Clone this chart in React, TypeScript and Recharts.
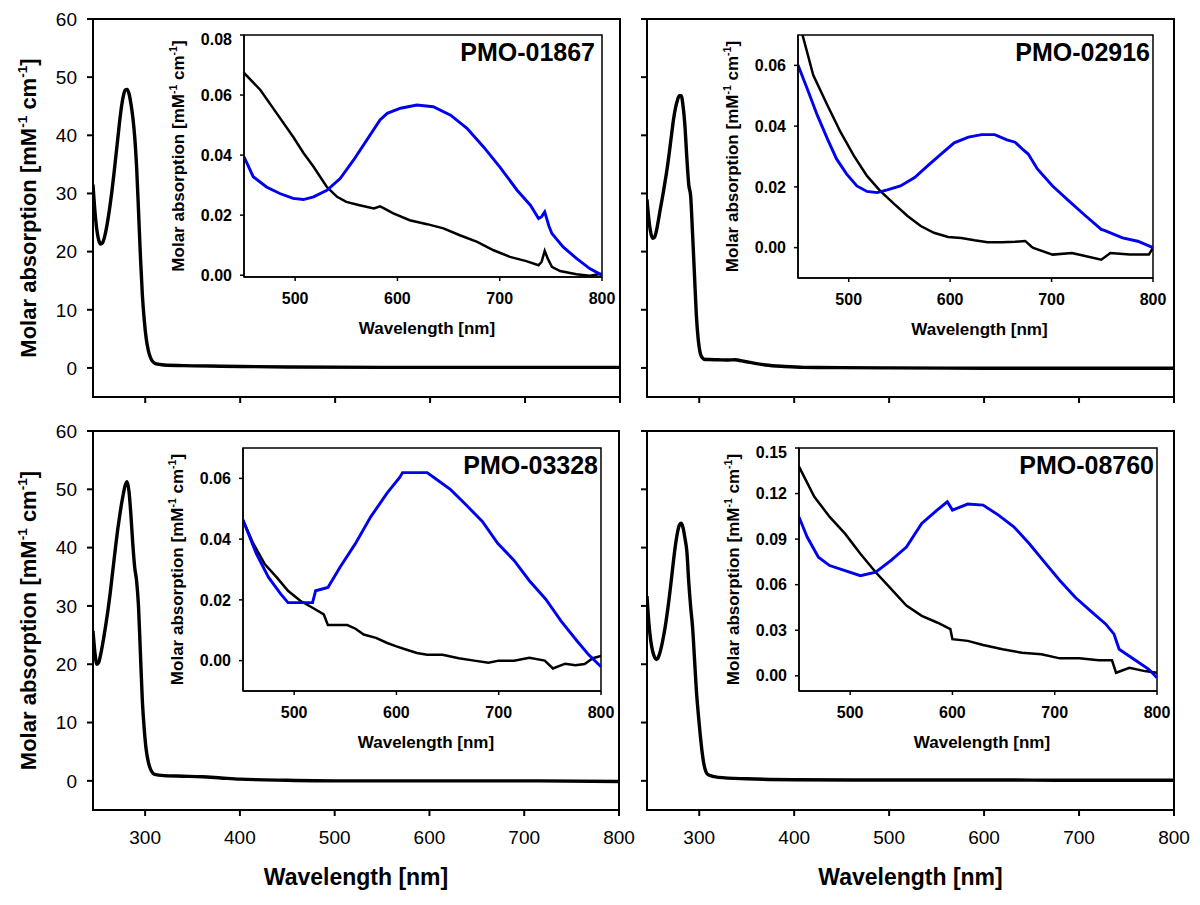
import React from 'react';
import { LineChart, Line, XAxis, YAxis, ReferenceArea, Customized } from 'recharts';

const FONT = '"Liberation Sans", Arial, Helvetica, sans-serif';
const BLUE = '#0000f0';

// ---- main spectra (245-800 nm), mM-1 cm-1 ----
const wl01867 = [245, 247, 249, 251, 253, 255, 257, 259, 261, 263, 265, 267, 269, 271, 273, 275, 277, 279, 281, 283, 285, 287, 289, 291, 293, 295, 297, 299, 301, 303, 305, 307, 310, 315, 320, 340, 380, 450, 550, 650, 800];
const abs01867 = [31.5, 27, 23.8, 22, 21.3, 21.5, 22.4, 23.9, 25.8, 28, 30.5, 33.3, 36.3, 39.3, 42.3, 44.9, 46.8, 47.8, 47.9, 47.1, 45.4, 43, 39.6, 34.3, 26.8, 19, 12.5, 8.2, 5.1, 3.2, 2, 1.3, 0.8, 0.6, 0.5, 0.4, 0.3, 0.15, 0.1, 0.1, 0.1];

const wl02916 = [245, 247, 249, 251, 253, 255, 257, 259, 261, 263, 265, 267, 269, 271, 273, 275, 277, 279, 281, 283, 285, 287, 289, 291, 293, 295, 297, 299, 301, 303, 305, 310, 320, 330, 338, 345, 355, 370, 390, 410, 450, 500, 600, 700, 800];
const abs02916 = [29, 25.5, 23.2, 22.3, 22.5, 23.6, 25.4, 27.3, 29.1, 31, 33, 35.2, 37.7, 40.3, 42.8, 44.7, 46, 46.8, 46.8, 45, 41.5, 36, 31.5, 29.5, 23, 16, 9, 4.8, 2.6, 1.8, 1.5, 1.45, 1.4, 1.35, 1.4, 1.2, 0.9, 0.5, 0.25, 0.1, 0.05, 0, -0.05, -0.05, -0.05];

const wl03328 = [245, 247, 249, 251, 253, 255, 257, 259, 261, 263, 265, 267, 269, 271, 273, 275, 277, 279, 281, 283, 285, 287, 289, 291, 293, 295, 297, 299, 301, 303, 305, 307, 310, 320, 340, 360, 380, 400, 450, 500, 600, 700, 800];
const abs03328 = [25.7, 22, 20, 20.3, 21.6, 23.3, 25.2, 27.3, 29.5, 32, 34.8, 37.6, 40.4, 43, 45.3, 47.4, 49.2, 50.7, 51.3, 49.6, 45.6, 40.6, 36.6, 34.3, 30, 22, 14, 9, 5.5, 3.5, 2.3, 1.6, 1.1, 0.9, 0.8, 0.7, 0.5, 0.3, 0.1, 0, 0, 0, -0.1];

const wl08760 = [245, 247, 249, 251, 253, 255, 257, 259, 261, 263, 265, 267, 269, 271, 273, 275, 277, 279, 281, 283, 285, 287, 289, 291, 293, 295, 297, 299, 301, 303, 305, 307, 310, 320, 350, 400, 500, 600, 700, 800];
const abs08760 = [31.7, 27, 24, 22.2, 21.2, 20.8, 21.2, 22.2, 23.6, 25.3, 27.3, 29.6, 32.2, 35, 37.9, 40.5, 42.5, 43.8, 44.2, 43.4, 41.6, 39.3, 34, 29.8, 26.3, 21, 15.5, 11.5, 8, 5, 2.8, 1.6, 1, 0.6, 0.35, 0.2, 0.15, 0.15, 0.1, 0.1];

// ---- inset spectra 450-800 nm: protein (black) and complex (blue) ----
const inWl01867K = [450, 466, 482, 498, 508, 518, 531, 541, 550, 563, 577, 583, 586, 596, 612, 629, 645, 661, 678, 694, 710, 726, 738, 741, 744, 747, 751, 759, 775, 788, 800];
const in01867K = [0.0674, 0.0617, 0.0539, 0.0461, 0.0408, 0.0361, 0.0294, 0.0261, 0.0244, 0.0233, 0.0222, 0.0229, 0.0224, 0.0206, 0.0183, 0.017, 0.0156, 0.0133, 0.0111, 0.0083, 0.0061, 0.0047, 0.0033, 0.0045, 0.0081, 0.0055, 0.0028, 0.0014, 0.0003, -0.0002, 0.0005];
const inWl01867B = [450, 459, 472, 485, 498, 508, 518, 531, 544, 557, 570, 583, 590, 603, 619, 635, 652, 668, 684, 700, 717, 730, 738, 741, 744, 748, 751, 762, 775, 788, 800];
const in01867B = [0.0394, 0.0328, 0.0294, 0.0272, 0.0256, 0.0252, 0.0261, 0.0283, 0.0322, 0.0383, 0.045, 0.0517, 0.0539, 0.0556, 0.0567, 0.0561, 0.0533, 0.0489, 0.0428, 0.0361, 0.0283, 0.0233, 0.0189, 0.0195, 0.0211, 0.0165, 0.0139, 0.0094, 0.0056, 0.0022, 0.0];

const inWl02916K = [450, 454, 465, 479, 492, 505, 518, 531, 545, 558, 571, 584, 598, 611, 624, 637, 651, 664, 674, 680, 682, 701, 720, 732, 749, 758, 777, 796, 800];
const in02916K = [0.0755, 0.0706, 0.0568, 0.0469, 0.038, 0.0303, 0.0236, 0.0187, 0.0143, 0.0104, 0.0071, 0.0049, 0.0035, 0.0032, 0.0024, 0.0018, 0.0018, 0.0019, 0.0022, 0.0004, -0.0001, -0.0023, -0.0018, -0.0027, -0.004, -0.0018, -0.0023, -0.0023, 0.0];
const inWl02916B = [450, 459, 469, 479, 488, 498, 508, 518, 528, 538, 551, 565, 578, 591, 604, 618, 631, 644, 656, 664, 671, 677, 686, 701, 717, 732, 749, 752, 770, 785, 800];
const in02916B = [0.0601, 0.0524, 0.0436, 0.0358, 0.0292, 0.0242, 0.0203, 0.0185, 0.0181, 0.019, 0.0203, 0.0231, 0.027, 0.0308, 0.0345, 0.0364, 0.0372, 0.0372, 0.0355, 0.0347, 0.0325, 0.0308, 0.0259, 0.0203, 0.0154, 0.0109, 0.006, 0.0057, 0.0032, 0.0021, 0.0];

const inWl03328K = [450, 460, 471, 483, 494, 506, 518, 529, 533, 540, 552, 560, 568, 580, 591, 600, 610, 620, 630, 645, 661, 676, 690, 700, 715, 730, 745, 753, 765, 775, 784, 792, 800];
const in03328K = [0.0463, 0.0386, 0.0319, 0.0274, 0.023, 0.0197, 0.0174, 0.0152, 0.0117, 0.0117, 0.0117, 0.0105, 0.0086, 0.0075, 0.0058, 0.0047, 0.0036, 0.0025, 0.0019, 0.0019, 0.0008, 0.0, -0.0007, 0.0, 0.0, 0.0009, 0.0, -0.0026, -0.001, -0.0015, -0.0011, 0.0008, 0.0015];
const inWl03328B = [450, 463, 475, 487, 494, 506, 518, 521, 533, 545, 560, 575, 591, 603, 606, 618, 630, 637, 653, 668, 684, 699, 715, 730, 746, 761, 777, 788, 800];
const in03328B = [0.0463, 0.0352, 0.0274, 0.0219, 0.0191, 0.0191, 0.0191, 0.023, 0.0241, 0.0308, 0.0386, 0.0474, 0.0552, 0.0602, 0.0619, 0.0619, 0.0619, 0.0602, 0.0563, 0.0513, 0.0458, 0.0386, 0.033, 0.0263, 0.0202, 0.013, 0.0063, 0.0019, -0.002];

const inWl08760K = [450, 465, 480, 495, 510, 525, 540, 555, 570, 585, 598, 600, 615, 630, 649, 668, 687, 705, 724, 743, 756, 760, 773, 788, 800];
const in08760K = [0.1377, 0.1179, 0.1046, 0.0936, 0.0804, 0.0682, 0.0572, 0.0462, 0.0395, 0.0351, 0.0307, 0.0241, 0.023, 0.0203, 0.0175, 0.0152, 0.0142, 0.0115, 0.0115, 0.0102, 0.0102, 0.002, 0.0053, 0.0031, 0.002];
const inWl08760B = [450, 458, 469, 480, 495, 510, 525, 540, 555, 570, 585, 595, 600, 615, 630, 645, 660, 675, 690, 705, 720, 735, 750, 758, 763, 780, 792, 800];
const in08760B = [0.1046, 0.0914, 0.0781, 0.0726, 0.0693, 0.0659, 0.0682, 0.076, 0.0848, 0.1003, 0.1091, 0.1146, 0.1091, 0.1131, 0.1124, 0.1058, 0.0981, 0.0871, 0.0749, 0.0628, 0.0517, 0.0428, 0.034, 0.0274, 0.0175, 0.0098, 0.0043, -0.0013];

// ---- ticks ----
const mainXTicks = [300, 400, 500, 600, 700, 800];
const mainYTicks = [0, 10, 20, 30, 40, 50, 60];
const insetXTicks = [500, 600, 700, 800];
const yTicks01867 = [0, 0.02, 0.04, 0.06, 0.08];
const yTicks02916 = [0, 0.02, 0.04, 0.06];
const yTicks03328 = [0, 0.02, 0.04, 0.06];
const yTicks08760 = [0, 0.03, 0.06, 0.09, 0.12, 0.15];

const zip = (xs: number[], ys: number[]) => xs.map((x, i) => ({ x, y: ys[i] }));

const AbsTitle = ({ size }: { size: number }) => {
  const up = size * 0.4;
  const sup = size * 0.62;
  return (
    <>
      Molar absorption [mM
      <tspan dy={-up} fontSize={sup}>-1</tspan>
      <tspan dy={up}> cm</tspan>
      <tspan dy={-up} fontSize={sup}>-1</tspan>
      <tspan dy={up}>]</tspan>
    </>
  );
};

type Box = { x0: number; y0: number; x1: number; y1: number };

interface PanelCfg {
  box: Box;
  pad: { l: number; r: number; t: number; b: number };
  xDomain: [number, number];
  yDomain: [number, number];
  xTicks: number[];
  yTicks: number[];
  xLabels: boolean;
  yLabels: boolean;
  tickFont: number;
  tickBold: boolean;
  tickSize: number;
  xTickMargin: number;
  yTickMargin: number;
  axisWidth: number;
  digits: number;
  series: { data: { x: number; y: number }[]; color: string; width: number; type: 'monotone' | 'linear' }[];
  yTitle?: { x: number; size: number };
  xTitle?: { cx: number; y: number; size: number };
  tag?: { text: string; right: number; y: number; size: number };
}

const Panel = ({ cfg }: { cfg: PanelCfg }) => {
  const { box, pad } = cfg;
  const left = box.x0 - pad.l;
  const top = box.y0 - pad.t;
  const width = box.x1 - box.x0 + pad.l + pad.r;
  const height = box.y1 - box.y0 + pad.t + pad.b;
  const tickStyle = { fill: '#000', fontSize: cfg.tickFont, fontFamily: FONT, fontWeight: cfg.tickBold ? 'bold' : 'normal' };
  const fmt = (v: number) => v.toFixed(cfg.digits);
  const midY = (box.y0 + box.y1) / 2;

  const overlay = (
    <g fontFamily={FONT} fill="#000" fontWeight="bold">
      {cfg.yTitle && (
        <text transform={`translate(${cfg.yTitle.x - left},${midY - top}) rotate(-90)`} textAnchor="middle" fontSize={cfg.yTitle.size}>
          <AbsTitle size={cfg.yTitle.size} />
        </text>
      )}
      {cfg.xTitle && (
        <text x={cfg.xTitle.cx - left} y={cfg.xTitle.y - top} textAnchor="middle" fontSize={cfg.xTitle.size}>
          Wavelength [nm]
        </text>
      )}
      {cfg.tag && (
        <text x={cfg.tag.right - left} y={cfg.tag.y - top} textAnchor="end" fontSize={cfg.tag.size}>
          {cfg.tag.text}
        </text>
      )}
    </g>
  );

  return (
    <div style={{ position: 'absolute', left, top, width, height }}>
      <LineChart width={width} height={height} margin={{ top: pad.t, right: pad.r, bottom: 0, left: 0 }}>
        <XAxis
          type="number"
          dataKey="x"
          domain={cfg.xDomain}
          ticks={cfg.xTicks}
          allowDataOverflow
          height={pad.b}
          tickSize={cfg.tickSize}
          tickMargin={cfg.xTickMargin}
          tick={tickStyle}
          tickFormatter={cfg.xLabels ? (v: number) => String(v) : () => ''}
          axisLine={{ stroke: '#000', strokeWidth: cfg.axisWidth }}
          tickLine={{ stroke: '#000', strokeWidth: cfg.axisWidth }}
        />
        <YAxis
          type="number"
          domain={cfg.yDomain}
          ticks={cfg.yTicks}
          allowDataOverflow
          width={pad.l}
          tickSize={cfg.tickSize}
          tickMargin={cfg.yTickMargin}
          tick={tickStyle}
          tickFormatter={cfg.yLabels ? fmt : () => ''}
          axisLine={{ stroke: '#000', strokeWidth: cfg.axisWidth }}
          tickLine={{ stroke: '#000', strokeWidth: cfg.axisWidth }}
        />
        <ReferenceArea
          x1={cfg.xDomain[0]}
          x2={cfg.xDomain[1]}
          y1={cfg.yDomain[0]}
          y2={cfg.yDomain[1]}
          fill="none"
          fillOpacity={0}
          stroke="#000"
          strokeWidth={cfg.axisWidth}
          strokeOpacity={1}
          ifOverflow="visible"
        />
        {cfg.series.map((s, i) => (
          <Line
            key={i}
            data={s.data}
            dataKey="y"
            type={s.type}
            stroke={s.color}
            strokeWidth={s.width}
            dot={false}
            activeDot={false}
            isAnimationActive={false}
          />
        ))}
        <Customized component={overlay} />
      </LineChart>
    </div>
  );
};

const mainBase = {
  xDomain: [245, 800] as [number, number],
  yDomain: [-5, 60] as [number, number],
  xTicks: mainXTicks,
  yTicks: mainYTicks,
  tickFont: 19,
  tickBold: false,
  tickSize: 6,
  xTickMargin: 15,
  yTickMargin: 10,
  axisWidth: 2,
  digits: 0,
};

const insetBase = {
  xDomain: [450, 800] as [number, number],
  xTicks: insetXTicks,
  xLabels: true,
  yLabels: true,
  tickFont: 16,
  tickBold: true,
  tickSize: 4,
  xTickMargin: 12,
  yTickMargin: 8,
  axisWidth: 1.5,
  digits: 2,
  pad: { l: 92, r: 22, t: 5, b: 70 },
};

const mainLine = (xs: number[], ys: number[]) => [{ data: zip(xs, ys), color: '#000', width: 3.4, type: 'monotone' as const }];
const insetLines = (kx: number[], ky: number[], bx: number[], by: number[]) => [
  { data: zip(kx, ky), color: '#000', width: 2.5, type: 'linear' as const },
  { data: zip(bx, by), color: BLUE, width: 2.9, type: 'linear' as const },
];

const insetTexts = (box: Box, name: string, inset: number) => ({
  yTitle: { x: box.x0 - 60, size: 17 },
  xTitle: { cx: (box.x0 + box.x1) / 2 + 4, y: box.y1 + 57, size: 17 },
  tag: { text: name, right: box.x1 - inset, y: box.y0 + 25.5, size: 25 },
});

const boxTL = { x0: 93, y0: 19, x1: 620, y1: 397 };
const boxTR = { x0: 647, y0: 19, x1: 1174, y1: 397 };
const boxBL = { x0: 93, y0: 431, x1: 619, y1: 810 };
const boxBR = { x0: 647, y0: 431, x1: 1174, y1: 810 };

const inTL = { x0: 244, y0: 35, x1: 602, y1: 277 };
const inTR = { x0: 798, y0: 35, x1: 1153, y1: 278 };
const inBL = { x0: 243, y0: 448, x1: 601, y1: 691 };
const inBR = { x0: 799, y0: 448, x1: 1157, y1: 691 };

const panels: PanelCfg[] = [
  {
    ...mainBase, box: boxTL, pad: { l: 93, r: 8, t: 12, b: 14 }, xLabels: false, yLabels: true,
    series: mainLine(wl01867, abs01867), yTitle: { x: 36, size: 22 },
  },
  {
    ...mainBase, box: boxTR, pad: { l: 20, r: 8, t: 12, b: 14 }, xLabels: false, yLabels: false,
    series: mainLine(wl02916, abs02916),
  },
  {
    ...mainBase, box: boxBL, pad: { l: 93, r: 24, t: 12, b: 92 }, xLabels: true, yLabels: true,
    series: mainLine(wl03328, abs03328), yTitle: { x: 36, size: 22 },
    xTitle: { cx: (boxBL.x0 + boxBL.x1) / 2, y: 885, size: 23 },
  },
  {
    ...mainBase, box: boxBR, pad: { l: 20, r: 24, t: 12, b: 92 }, xLabels: true, yLabels: false,
    series: mainLine(wl08760, abs08760),
    xTitle: { cx: (boxBR.x0 + boxBR.x1) / 2, y: 885, size: 23 },
  },
  {
    ...insetBase, box: inTL, yDomain: [-0.0006, 0.08], yTicks: yTicks01867,
    series: insetLines(inWl01867K, in01867K, inWl01867B, in01867B),
    ...insetTexts(inTL, 'PMO-01867', 7),
  },
  {
    ...insetBase, box: inTR, yDomain: [-0.01, 0.07], yTicks: yTicks02916,
    series: insetLines(inWl02916K, in02916K, inWl02916B, in02916B),
    ...insetTexts(inTR, 'PMO-02916', 3),
  },
  {
    ...insetBase, box: inBL, yDomain: [-0.01, 0.07], yTicks: yTicks03328,
    series: insetLines(inWl03328K, in03328K, inWl03328B, in03328B),
    ...insetTexts(inBL, 'PMO-03328', 3),
  },
  {
    ...insetBase, box: inBR, yDomain: [-0.01, 0.15], yTicks: yTicks08760,
    series: insetLines(inWl08760K, in08760K, inWl08760B, in08760B),
    ...insetTexts(inBR, 'PMO-08760', 3),
  },
];

export default function App() {
  return (
    <div style={{ position: 'absolute', left: 0, top: 0, width: 1200, height: 905, background: '#fff', fontFamily: FONT }}>
      {panels.map((p, i) => (
        <Panel key={i} cfg={p} />
      ))}
    </div>
  );
}
